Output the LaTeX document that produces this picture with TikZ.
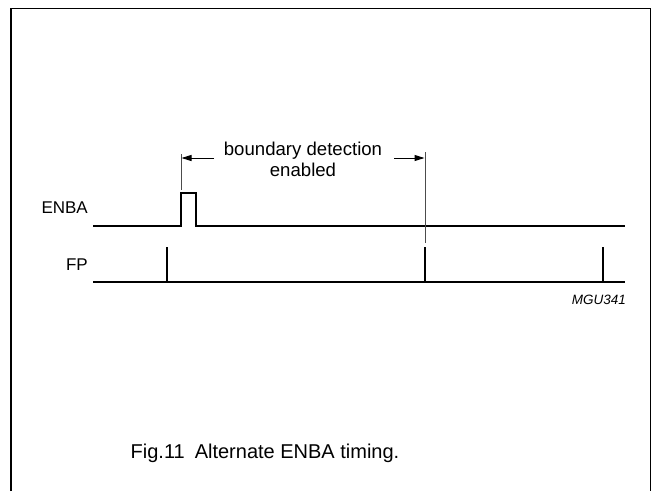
\documentclass[tikz,border=0pt]{standalone}
\usepackage{fontspec}
\setmainfont{Liberation Sans}
\usetikzlibrary{arrows.meta}
\begin{document}
\begin{tikzpicture}[x=1pt,y=-1pt,
  sig/.style={line width=2.8pt,line cap=butt,line join=miter},
  thin/.style={line width=0.9pt,black!70},
  dimarrow/.style={line width=1pt,-{Triangle[length=10pt,width=6pt]}},
  lbl/.style={inner sep=0pt,font=\fontsize{17}{20}\selectfont},
  txt/.style={inner sep=0pt,font=\fontsize{18.6}{22}\selectfont}]
\useasboundingbox (0,0) rectangle (653,491);
% frame
\draw[line width=1.4pt] (11,491) -- (11,8.5) -- (650.5,8.5) -- (650.5,491);
% labels
\node[lbl,anchor=base east] (enba) at (88,213) {ENBA};
\node[lbl,anchor=base east] (fp) at (88,270) {FP};
% ENBA waveform
\coordinate (e0) at (93,226);
\coordinate (e1) at (625,226);
\draw[sig] (e0) -- (181,226) -- (181,193) -- (196,193) -- (196,226) -- (e1);
% FP waveform
\coordinate (f0) at (93,282);
\coordinate (f1) at (625,282);
\draw[sig] (f0) -- (f1);
\draw[sig] (167,282) -- (167,247);
\draw[sig] (425,282) -- (425,247);
\draw[sig] (603,282) -- (603,247);
% marker lines
\coordinate (m1t) at (181,154);
\coordinate (m1b) at (181,190);
\coordinate (m2t) at (425,152);
\coordinate (m2b) at (425,243);
\draw[thin] (m1t) -- (m1b);
\draw[thin] (m2t) -- (m2b);
% arrows
\coordinate (a1s) at (214,158);
\coordinate (a1e) at (181.5,158);
\coordinate (a2s) at (394,158);
\coordinate (a2e) at (424.5,158);
\draw[dimarrow] (a1s) -- (a1e);
\draw[dimarrow] (a2s) -- (a2e);
\node[txt,anchor=base] (bd) at (303,155.5) {boundary detection};
\node[txt,anchor=base] (en) at (303,176) {enabled};
% code
\node[inner sep=0pt,anchor=base east,font=\fontsize{13.5}{16}\selectfont\itshape] (code) at (626,304) {MGU341};
% caption
\node[inner sep=0pt,anchor=base,font=\fontsize{20}{24}\selectfont] (cap) at (265,458) {Fig.11\hspace{0.5em}Alternate ENBA timing.};
\end{tikzpicture}
\end{document}
